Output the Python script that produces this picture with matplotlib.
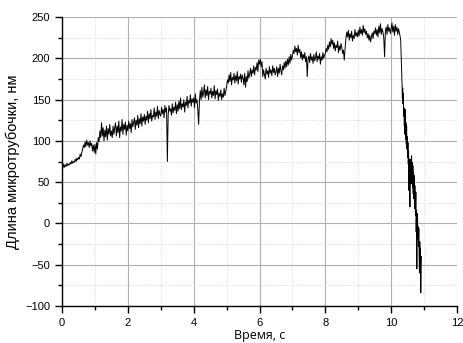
import numpy as np
import matplotlib
matplotlib.use('Agg')
import matplotlib.pyplot as plt
from matplotlib.ticker import MultipleLocator

growth_t0 = 0.0
growth_dt = 0.025
growth_len = [
    # 0.0 - 0.5 s
    70, 67, 72, 68, 71, 69, 73, 70, 72, 71, 74, 72, 76, 73, 75, 74, 78, 75, 79, 77,
    80, 78, 84, 81, 86, 90, 95, 92, 99, 93, 101, 95, 98, 92, 100, 94, 97, 88, 95, 86,
    # 1.0 - 2.0 s
    96, 84, 98, 90, 104, 99, 112, 104, 122, 106, 116, 100, 113, 105, 118, 101, 115, 108, 120, 106,
    112, 104, 118, 108, 116, 122, 106, 118, 110, 124, 104, 117, 112, 126, 108, 120, 114, 123, 107, 119,
    # 2.0 - 3.0 s
    112, 124, 115, 121, 110, 126, 117, 122, 128, 114, 125, 119, 131, 116, 127, 121, 133, 118, 129, 124,
    132, 120, 130, 125, 136, 122, 133, 127, 138, 124, 131, 129, 140, 126, 135, 130, 142, 127, 137, 132,
    # 3.0 - 4.0 s
    130, 141, 133, 138, 128, 143, 135, 140, 75, 132, 143, 136, 139, 131, 145, 134, 141, 137, 147, 133,
    144, 136, 148, 139, 152, 138, 145, 141, 150, 135, 147, 143, 154, 140, 149, 146, 156, 142, 151, 147,
    # 4.0 - 5.0 s
    152, 140, 157, 146, 150, 138, 120, 148, 161, 150, 165, 153, 158, 168, 152, 162, 155, 166, 150, 160,
    157, 164, 152, 160, 155, 167, 151, 161, 156, 163, 149, 158, 154, 162, 150, 157, 153, 164, 155, 160,
    # 5.0 - 6.0 s
    166, 174, 170, 180, 172, 183, 168, 177, 174, 182, 170, 179, 173, 184, 169, 178, 175, 181, 171, 180,
    176, 168, 182, 165, 178, 172, 185, 176, 181, 188, 178, 186, 182, 191, 180, 189, 186, 195, 184, 198,
    # 6.0 - 7.0 s
    193, 199, 190, 196, 178, 186, 180, 175, 188, 181, 185, 177, 190, 182, 186, 179, 191, 183, 188, 180,
    184, 190, 178, 188, 182, 193, 185, 180, 191, 186, 195, 188, 197, 190, 199, 192, 202, 194, 205, 198,
    # 7.0 - 8.0 s
    203, 210, 206, 215, 208, 212, 204, 216, 207, 211, 201, 208, 198, 205, 200, 207, 196, 202, 178, 199,
    203, 195, 206, 198, 202, 194, 205, 197, 201, 208, 196, 203, 199, 206, 193, 202, 198, 207, 200, 204,
    # 8.0 - 9.0 s
    206, 212, 208, 216, 211, 220, 214, 224, 217, 222, 212, 219, 209, 216, 213, 221, 207, 215, 210, 218,
    214, 206, 210, 198, 212, 224, 232, 226, 234, 222, 230, 225, 233, 221, 228, 224, 235, 227, 231, 226,
    # 9.0 - 10.0 s
    234, 227, 238, 230, 235, 228, 240, 231, 236, 229, 233, 225, 230, 222, 228, 220, 226, 231, 224, 233,
    230, 237, 228, 235, 226, 239, 231, 242, 229, 236, 232, 225, 202, 234, 238, 229, 241, 233, 237, 230,
    # 10.0 - 10.275 s
    236, 243, 232, 239, 228, 241, 233, 238, 229, 236, 231, 226,
]

# Shortening (catastrophe) phase
short_t = [10.29, 10.30, 10.31, 10.32, 10.33, 10.34, 10.35, 10.36, 10.37, 10.38,
           10.39, 10.40, 10.41, 10.42, 10.43, 10.44, 10.45, 10.46, 10.47, 10.48,
           10.49, 10.50, 10.51, 10.52, 10.53, 10.54, 10.55, 10.56, 10.57, 10.58,
           10.59, 10.60, 10.61, 10.62, 10.63, 10.64, 10.65, 10.66, 10.67, 10.68,
           10.69, 10.70, 10.71, 10.72, 10.73, 10.74, 10.75, 10.76, 10.77, 10.78,
           10.79, 10.80, 10.81, 10.82, 10.83, 10.84, 10.85, 10.86, 10.87, 10.88,
           10.89, 10.90, 10.91, 10.92]
short_len = [222, 210, 196, 182, 170, 152, 164, 145, 158, 130,
             140, 118, 132, 108, 138, 102, 122, 96, 118, 90,
             105, 80, 98, 72, 88, 40, 78, 62, 20, 70,
             55, 78, 48, 82, 56, 74, 44, 70, 36, 62,
             30, 58, 18, 46, 24, 10, 38, -10, 16, -55,
             2, 12, -18, -4, -28, -6, -40, -60, -22, -48,
             -30, -84, -52, -40]

x_ticks = [0, 2, 4, 6, 8, 10, 12]
y_ticks = [-100, -50, 0, 50, 100, 150, 200, 250]

growth_t = growth_t0 + growth_dt * np.arange(len(growth_len))
t = np.concatenate([growth_t, short_t])
length = np.concatenate([growth_len, short_len])

plt.rcParams['font.family'] = ['Liberation Sans', 'DejaVu Sans']

fig = plt.figure(figsize=(4.63, 3.43), dpi=100)
ax = fig.add_axes([0.134, 0.108, 0.853, 0.842])

ax.plot(t, length, color='black', linewidth=0.7)

ax.set_xlim(0, 12)
ax.set_ylim(-100, 250)
ax.set_xticks(x_ticks)
ax.set_yticks(y_ticks)
ax.xaxis.set_minor_locator(MultipleLocator(1))
ax.yaxis.set_minor_locator(MultipleLocator(25))

ax.grid(which='major', color='#b0b0b0', linewidth=0.8, linestyle='-')
ax.grid(which='minor', color='#d8d8d8', linewidth=0.7, linestyle=':')
ax.set_axisbelow(True)

for side in ['top', 'right']:
    ax.spines[side].set_visible(False)
for side in ['left', 'bottom']:
    ax.spines[side].set_linewidth(1.0)

ax.tick_params(which='major', direction='out', length=5, width=1, labelsize=8)
ax.tick_params(which='minor', direction='out', length=3, width=1)

ax.set_xlabel('Время, с', fontsize=9, family=['Open Sans', 'DejaVu Sans'], labelpad=1)
ax.set_ylabel('Длина микротрубочки, нм', fontsize=10.5, labelpad=4)

fig.savefig('out.png', dpi=100)
